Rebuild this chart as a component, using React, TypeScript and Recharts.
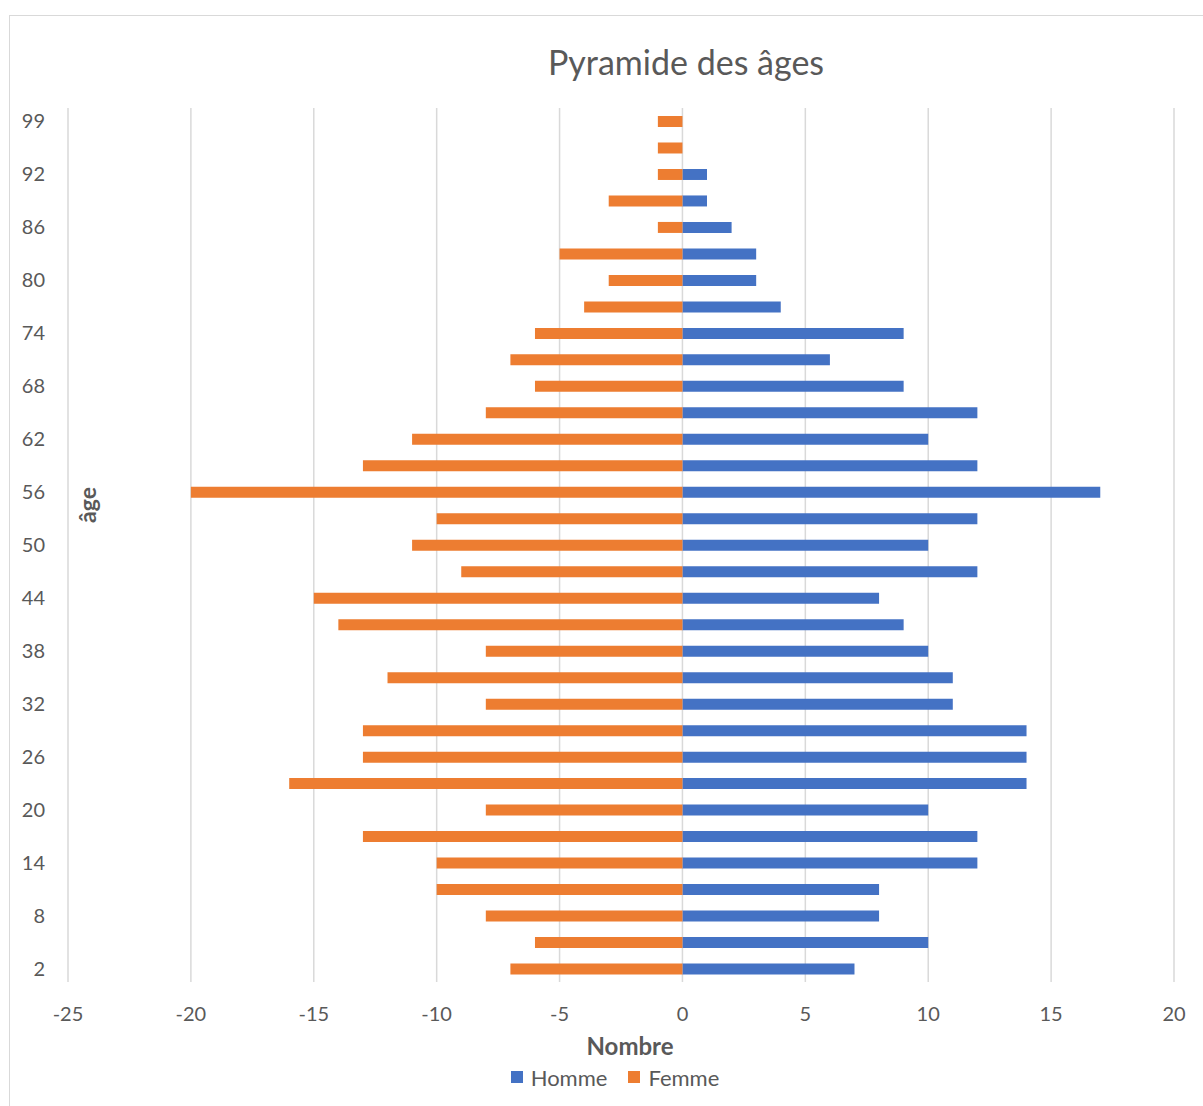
import React from 'react';
import { BarChart, Bar, XAxis, YAxis, CartesianGrid, Legend, Label } from 'recharts';

const ages = [2, 5, 8, 11, 14, 17, 20, 23, 26, 29, 32, 35, 38, 41, 44, 47, 50, 53, 56, 59, 62, 65, 68, 71, 74, 77, 80, 83, 86, 89, 92, 95, 99];
const homme = [7, 10, 8, 8, 12, 12, 10, 14, 14, 14, 11, 11, 10, 9, 8, 12, 10, 12, 17, 12, 10, 12, 9, 6, 9, 4, 3, 3, 2, 1, 1, 0, 0];
const femme = [-7, -6, -8, -10, -10, -13, -8, -16, -13, -13, -8, -12, -8, -14, -15, -9, -11, -10, -20, -13, -11, -8, -6, -7, -6, -4, -3, -5, -1, -3, -1, -1, -1];
const xTicks = [-25, -20, -15, -10, -5, 0, 5, 10, 15, 20];

const series = [
  { key: 'Homme', color: '#4472C4' },
  { key: 'Femme', color: '#ED7D31' },
];

const data = ages.map((age, i) => ({ age, Homme: homme[i], Femme: femme[i] }));

const FONT = 'Lato, "Open Sans", sans-serif';
const TEXT = '#595959';

function LegendBox() {
  return (
    <div style={{ display: 'flex', justifyContent: 'center', gap: 21, height: 24, alignItems: 'center', fontFamily: FONT, fontSize: 22, color: TEXT }}>
      {series.map((s) => (
        <span key={s.key} style={{ display: 'flex', alignItems: 'center' }}>
          <span style={{ width: 12, height: 12, background: s.color, marginRight: 8, display: 'inline-block' }} />
          {s.key}
        </span>
      ))}
    </div>
  );
}

export default function App() {
  return (
    <div style={{ position: 'absolute', left: 0, top: 0, width: 1203, height: 1106, background: '#fff', overflow: 'hidden' }}>
      <div style={{ position: 'absolute', left: 9, top: 15, width: 1300, height: 1200, border: '1px solid #d9d9d9' }} />
      <div style={{ position: 'absolute', left: 0, top: 41, width: 1372, textAlign: 'center', fontFamily: FONT, fontSize: 34, color: TEXT }}>
        Pyramide des âges
      </div>
      <div style={{ position: 'absolute', left: 0, top: 0 }}>
        <BarChart
          width={1203}
          height={1106}
          data={data}
          layout="vertical"
          stackOffset="sign"
          barSize={11}
          margin={{ top: 108, right: 29, bottom: 20, left: 0 }}
        >
          <CartesianGrid horizontal={false} stroke="#d9d9d9" strokeWidth={1.5} />
          <XAxis
            type="number"
            domain={[-25, 20]}
            ticks={xTicks}
            interval={0}
            axisLine={false}
            tickLine={false}
            tickSize={0}
            tickMargin={25}
            height={80}
            tick={{ fill: TEXT, fontSize: 20, fontFamily: FONT }}
          >
            <Label
              value="Nombre"
              position="insideBottom"
              offset={7}
              dx={9}
              style={{ fill: TEXT, fontSize: 24, fontWeight: 700, fontFamily: FONT }}
            />
          </XAxis>
          <YAxis
            type="category"
            dataKey="age"
            reversed
            interval={1}
            width={68}
            axisLine={false}
            tickLine={false}
            tickSize={0}
            tickMargin={23}
            tick={{ fill: TEXT, fontSize: 20, fontFamily: FONT }}
          >
            <Label
              content={(props: any) => {
                const vb = props.viewBox || { x: 0, y: 108, width: 68, height: 874 };
                const cx = vb.x + vb.width + 19;
                const cy = vb.y + vb.height / 2 - 40;
                return (
                  <text
                    x={cx}
                    y={cy}
                    transform={`rotate(-90 ${cx} ${cy})`}
                    textAnchor="middle"
                    dominantBaseline="central"
                    style={{ fill: TEXT, fontSize: 23, fontWeight: 700, fontFamily: FONT }}
                  >
                    âge
                  </text>
                );
              }}
            />
          </YAxis>
          <Legend
            verticalAlign="bottom"
            content={() => <LegendBox />}
            wrapperStyle={{ left: 62, width: 1106, bottom: 17 }}
          />
          {series.map((s) => (
            <Bar key={s.key} dataKey={s.key} stackId="pop" fill={s.color} isAnimationActive={false} />
          ))}
        </BarChart>
      </div>
    </div>
  );
}
